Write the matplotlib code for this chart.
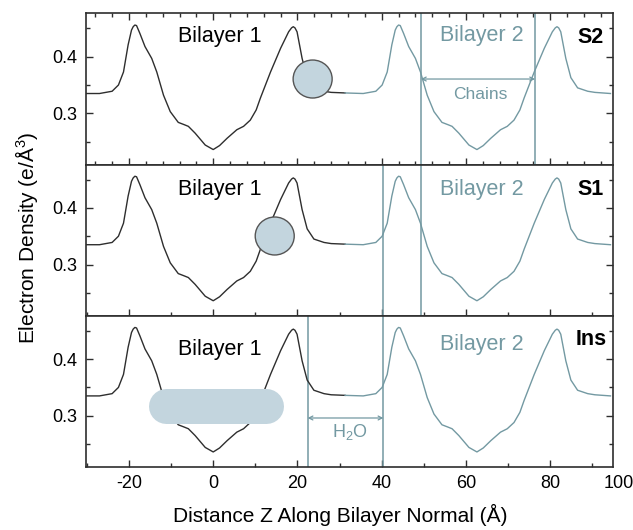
import matplotlib
matplotlib.use("Agg")
import matplotlib.pyplot as plt
from matplotlib.patches import Ellipse
from matplotlib.ticker import MultipleLocator
import matplotlib.transforms as mtransforms

plt.rcParams['font.family'] = ['Liberation Sans', 'DejaVu Sans']
plt.rcParams['mathtext.fontset'] = 'custom'
plt.rcParams['mathtext.rm'] = 'Liberation Sans'
plt.rcParams['mathtext.it'] = 'Liberation Sans:italic'
plt.rcParams['axes.unicode_minus'] = False

# electron density profile of bilayer 1
z_bil1 = [-30.2, -27.0, -25.5, -24.0, -22.5, -21.3, -20.2, -19.4, -19.0, -18.6, -18.2,
          -17.4, -16.2, -14.6, -13.4, -11.8, -10.2, -8.3, -6.9, -5.9, -4.3,
          -1.9, 0.0, 1.5, 3.3, 5.6, 7.2, 8.8, 10.2, 11.2, 12.4,
          13.6, 16.0, 17.9, 18.6, 19.0, 19.4, 19.9, 21.1, 22.3, 23.9, 26.3, 28.0, 31.3]
rho_bil1 = [0.335, 0.335, 0.337, 0.339, 0.350, 0.373, 0.421, 0.447, 0.453, 0.456, 0.455,
            0.441, 0.418, 0.397, 0.373, 0.332, 0.303, 0.284, 0.280, 0.277, 0.265,
            0.244, 0.236, 0.243, 0.256, 0.271, 0.277, 0.288, 0.306, 0.327, 0.350,
            0.373, 0.415, 0.444, 0.451, 0.453, 0.451, 0.444, 0.397, 0.363, 0.345, 0.339, 0.337, 0.336]

# bilayer 2 profile
z_bil2 = [31.3, 35.6, 37.1, 38.6, 40.1, 41.3, 42.4, 43.2, 43.6, 44.0, 44.4,
          45.2, 46.4, 48.0, 49.2, 50.8, 52.4, 54.3, 55.7, 56.7, 58.3,
          60.7, 62.6, 64.1, 65.9, 68.2, 69.8, 71.4, 72.8, 73.8, 75.0,
          76.2, 78.6, 80.5, 81.2, 81.6, 82.0, 82.5, 83.7, 84.9, 86.5, 88.9, 90.6, 94.3]
rho_bil2 = [0.336, 0.335, 0.337, 0.339, 0.350, 0.373, 0.421, 0.447, 0.453, 0.456, 0.455,
            0.441, 0.418, 0.397, 0.373, 0.332, 0.303, 0.284, 0.280, 0.277, 0.265,
            0.244, 0.236, 0.243, 0.256, 0.271, 0.277, 0.288, 0.306, 0.327, 0.350,
            0.373, 0.415, 0.444, 0.451, 0.453, 0.451, 0.444, 0.397, 0.363, 0.345, 0.339, 0.337, 0.335]

panel_names = ['S2', 'S1', 'Ins']
# vertical guide lines in each panel
guide_lines = [[49.3, 76.4], [40.4, 49.3], [22.4, 40.4]]

x_ticks = [-20, 0, 20, 40, 60, 80]
y_ticks = [0.3, 0.4]

teal = '#7399a2'
dark = '#2e2e2e'
blob = '#c3d5de'

fig = plt.figure(figsize=(6.33, 5.30), dpi=100)
left, width = 86 / 633, 527 / 633
ph = 151.2 / 530
bottoms = [1 - (13.3 + ph * 530) / 530, 1 - (13.3 + 2 * ph * 530) / 530, 1 - (13.3 + 3 * ph * 530) / 530]

axes = []
for i in range(3):
    ax = fig.add_axes([left, bottoms[i], width, ph])
    axes.append(ax)
    ax.plot(z_bil1, rho_bil1, color=dark, lw=1.0, zorder=3)
    ax.plot(z_bil2, rho_bil2, color=teal, lw=1.0, zorder=3)
    for xv in guide_lines[i]:
        ax.axvline(xv, color=teal, lw=1.1, zorder=2)
    ax.set_xlim(-30.2, 94.9)
    ax.set_ylim(0.2096, 0.4767)
    ax.set_yticks(y_ticks)
    ax.yaxis.set_minor_locator(MultipleLocator(0.05))
    ax.yaxis.set_major_formatter(plt.FormatStrFormatter('%.1f'))
    ax.xaxis.set_major_locator(MultipleLocator(20))
    if i == 0:
        ax.xaxis.set_minor_locator(MultipleLocator(4))
        ax.tick_params(axis='x', which='both', direction='in', top=True, bottom=True,
                       labelbottom=False)
    else:
        ax.xaxis.set_minor_locator(MultipleLocator(10))
        ax.tick_params(axis='x', which='both', direction='in', top=False, bottom=True,
                       labelbottom=(i == 2))
    ax.tick_params(axis='y', which='both', direction='in', right=True, left=True)
    ax.tick_params(which='major', length=5, width=1.0, color=dark, labelsize=13, pad=6)
    ax.tick_params(which='minor', length=3, width=1.0, color=dark)
    for sp in ax.spines.values():
        sp.set_color(dark)
        sp.set_linewidth(1.2)
    ax.text(92.6 if i < 2 else 93.4, [0.4237, 0.4228, 0.4249][i], panel_names[i],
            ha='right', va='baseline', fontsize=15.5, fontweight='bold', color='black')
    ax.text(1.5, [0.4265, 0.4228, 0.4073][i], 'Bilayer 1', ha='center', va='baseline',
            fontsize=15.5, color='black')
    ax.text(63.8, [0.4283, 0.4228, 0.4161][i], 'Bilayer 2', ha='center', va='baseline',
            fontsize=15.5, color=teal)

# circles and pill covering the curve
axes[0].add_patch(Ellipse((23.6, 0.3606), 9.26, 0.0671, facecolor=blob,
                          edgecolor='#555555', lw=1.0, zorder=4))
axes[1].add_patch(Ellipse((14.6, 0.3504), 9.26, 0.0671, facecolor=blob,
                          edgecolor='#555555', lw=1.0, zorder=4))
axes[2].plot([-11.3, 12.5], [0.318, 0.318], color=blob, lw=25.2,
             solid_capstyle='round', zorder=4)

# chains and water arrows
axes[0].annotate('', xy=(49.3, 0.3606), xytext=(76.4, 0.3606),
                 arrowprops=dict(arrowstyle='<->', color=teal, lw=0.9,
                                 shrinkA=0, shrinkB=0, mutation_scale=7))
axes[0].text(63.4, 0.3248, 'Chains', ha='center', va='baseline', fontsize=12.5, color=teal)
axes[2].annotate('', xy=(22.4, 0.296), xytext=(40.4, 0.296),
                 arrowprops=dict(arrowstyle='<->', color=teal, lw=0.9,
                                 shrinkA=0, shrinkB=0, mutation_scale=7))
axes[2].text(32.5, 0.2624, 'H$_2$O', ha='center', va='baseline', fontsize=13, color=teal)

# x tick label at the right edge, squeezed inside the picture
axes[2].xaxis.set_major_locator(plt.FixedLocator(x_ticks))
trans = mtransforms.blended_transform_factory(axes[2].transData, axes[2].transAxes)
axes[2].annotate('100', xy=(99.8, 0), xycoords=trans, xytext=(0, -6),
                 textcoords='offset points', ha='right', va='top', fontsize=13,
                 annotation_clip=False)

fig.text(27 / 633, 0.552, 'Electron Density (e/Å$^3$)', rotation=90,
         ha='center', va='center', fontsize=15)
fig.text(340 / 633, 8 / 530, 'Distance Z Along Bilayer Normal (Å)',
         ha='center', va='baseline', fontsize=15)

fig.savefig('out.png', dpi=100)
